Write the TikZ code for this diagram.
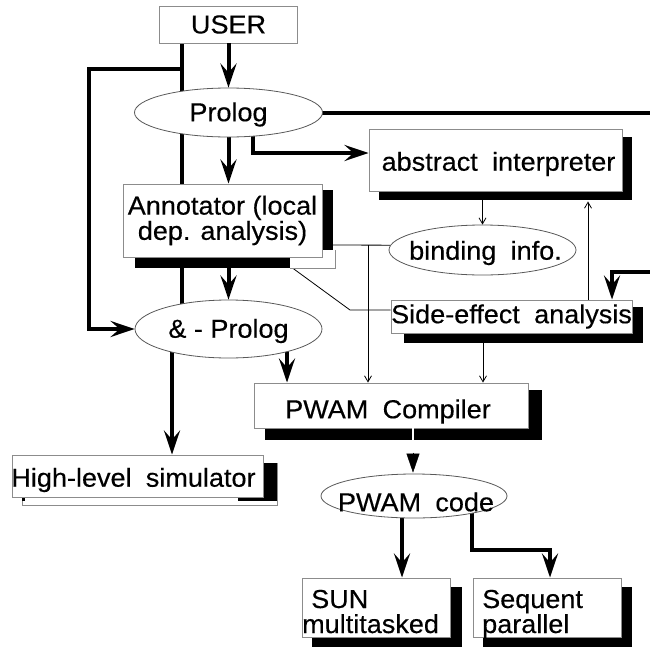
\documentclass[tikz,border=0pt]{standalone}
\usepackage{fontspec}
\setmainfont{Liberation Sans}[FakeBold=0.35,FakeStretch=1.04]
\usetikzlibrary{shapes.geometric,arrows.meta,calc}
\pgfdeclarelayer{bg}
\pgfsetlayers{bg,main}
\newcommand{\wgap}{\hspace{0.55em}}
% lower a label inside its shape without changing the shape's size
\newcommand{\lowered}[2]{\raisebox{-#1}[\height][\depth]{#2}}
\tikzset{
  lbl/.style={font=\fontsize{26}{25}\selectfont, inner sep=0pt},
  box/.style={lbl, rectangle, draw=black!45, fill=white, line width=0.9pt},
  oval/.style={lbl, ellipse, draw=black!65, fill=white, line width=0.8pt},
  shadowfill/.style={fill=black},
  thk/.style={line width=4pt},
  thkarrow/.style={thk, -{Stealth[length=24pt,width=16pt,inset=9pt]}},
  thn/.style={line width=0.8pt},
  thinarrow/.style={thn, -{Straight Barb[length=6pt,width=7pt]}},
}
\begin{document}
\begin{tikzpicture}[x=1pt,y=-1pt]
\useasboundingbox (0,0) rectangle (650,653);

% drop shadows
\fill[shadowfill] (379,137) rectangle (632,200);
\fill[shadowfill] (135,190) rectangle (333,268);
\fill[white] (290,250) rectangle (335,268);
\draw[black!45, line width=0.9pt] (335,250) -- (335,268) -- (290,268);
\fill[shadowfill] (404,307) rectangle (643,343);
\fill[shadowfill] (265,390) rectangle (542,440);
\filldraw[fill=white, draw=black!45, line width=0.9pt] (22,463) rectangle (277,505);
\fill[shadowfill] (238,463) rectangle (277,501);
\fill[shadowfill] (22,496) rectangle (25,501);
\fill[shadowfill] (312,587) rectangle (462,647);
\fill[shadowfill] (483,587) rectangle (632,647);

% boxes and ovals
\node[box, minimum width=138, minimum height=37] (user) at (228.5,24.5) {USER};
\node[oval, minimum width=188, minimum height=49] (prolog) at (228.5,112.5) {\makebox[0pt]{\lowered{2pt}{Prolog}}};
\node[box, minimum width=253, minimum height=62] (abs) at (495.5,160) {\makebox[0pt]{\lowered{4pt}{\hspace{6pt}abstract\wgap interpreter}}};
\node[box, minimum width=199, minimum height=73, align=center, font=\fontsize{26}{24}\selectfont] (annot) at (222.5,220.5) {Annotator (local\\dep. analysis)};
\node[oval, minimum width=187, minimum height=50] (bind) at (482.5,250) {\makebox[0pt]{\lowered{3pt}{\hspace{6pt}binding\wgap info.}}};
\node[oval, minimum width=187, minimum height=58] (andp) at (228.5,329) {\makebox[0pt]{\lowered{2pt}{\& - Prolog}}};
\node[box, minimum width=241, minimum height=33] (side) at (511.5,316.5) {\makebox[0pt]{Side-effect\wgap analysis}};
\node[box, minimum width=274, minimum height=45] (comp) at (391,405.5) {\makebox[0pt]{\lowered{6pt}{PWAM\wgap Compiler\hspace{6pt}}}};
\node[box, minimum width=251, minimum height=42] (sim) at (137.5,476) {\makebox[0pt]{\lowered{4pt}{High-level\wgap simulator\hspace{8pt}}}};
\node[oval, minimum width=186, minimum height=44] (code) at (414,496) {\makebox[0pt]{\lowered{6pt}{\hspace{4pt}PWAM\wgap code}}};
\node[box, minimum width=148, minimum height=59] (sun) at (376,607.5) {};
\node[box, minimum width=148, minimum height=59] (seq) at (547,607.5) {};
\node[lbl, anchor=base west] (sun1) at (311,608) {SUN};
\node[lbl, anchor=base west] (sun2) at (302,633) {multitasked};
\node[lbl, anchor=base west] (seq1) at (482,608) {Sequent};
\node[lbl, anchor=base west] (seq2) at (482,633) {parallel};

% connector waypoints
\coordinate (trunk) at (182,0);
\coordinate (j1) at (182,69);
\coordinate (lft) at (89,69);
\coordinate (pa) at (253,112.5);
\coordinate (e1) at (650,112.5);
\coordinate (e2) at (650,272);
\coordinate (se) at ($(side.north)+(100.5,0)$);
\coordinate (su) at ($(side.north)+(76.5,0)$);
\coordinate (absbot) at ($(abs.south)+(0,10)$);
\coordinate (j2) at (368,245);
\coordinate (d0) at (287,264);
\coordinate (d1) at (350,310);
\coordinate (sc) at ($(side.south)+(-28.5,0)$);
\coordinate (ac) at ($(comp.north)+(-104,0)$);
\coordinate (as) at ($(sim.north)+(34.5,0)$);
\coordinate (cc) at ($(code.north)+(-1,0)$);
\coordinate (cs) at ($(sun.north)+(26,0)$);
\coordinate (k1) at (472,550);
\coordinate (sq) at ($(seq.north)+(3,0)$);

% connectors on top
\draw[thkarrow] (user.south -| prolog.north) -- (prolog.north);
\draw[thinarrow] (su) -- (su |- absbot);
\draw[white, line width=2.5pt] (cc |- comp.south) -- ++(0,12.5);
\draw[line width=0.5pt, -{Triangle[length=19pt,width=13pt]}] ($(cc)+(0,-21)$) -- ($(cc)+(0,-1)$);

% connectors running behind the shapes
\begin{pgfonlayer}{bg}
\draw[thk] (user.south -| trunk) -- (andp.center -| trunk);
\draw[thkarrow] (j1) -- (lft) |- (andp.west);
\draw[thkarrow] (prolog.center) -- (prolog.center |- annot.north);
\draw[thkarrow] (pa) |- ([yshift=7pt]abs.west);
\draw[thk] (prolog.center) -- (e1);
\draw[thkarrow] (e2) -| (se);
\draw[thinarrow] (bind.north |- abs.south) -- (bind.north);
\draw[thn] (annot.east |- j2) -- (bind.177);
\draw[thinarrow] (j2) -- (j2 |- comp.north);
\draw[thn] (d0) -- (d1) -- (d1 -| side.west);
\draw[thinarrow] (sc) -- (sc |- comp.north);
\draw[thkarrow] (annot.center -| prolog.center) -- (andp.north -| prolog.center);
\draw[thkarrow] (ac |- andp.center) -- (ac);
\draw[thkarrow] (as |- andp.center) -- (as);
\draw[thkarrow] (cs |- code.center) -- (cs);
\draw[thkarrow] (k1 |- code.center) -- (k1) -| (sq);
\end{pgfonlayer}
\end{tikzpicture}
\end{document}
